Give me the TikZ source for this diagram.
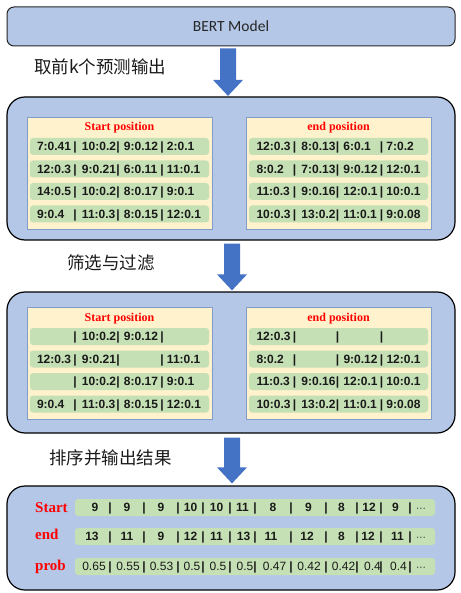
\documentclass[tikz,border=0pt]{standalone}
\usepackage{fontspec}
\setmainfont{Liberation Sans}
\newfontfamily\lsans{Liberation Sans}
\newfontfamily\lserif{Liberation Serif}
\newfontfamily\carl{Carlito}
\newfontfamily\cjk{Noto Sans CJK SC}
\usetikzlibrary{calc}
\definecolor{outerblue}{HTML}{B4C7E7}
\definecolor{yell}{HTML}{FFF2CC}
\definecolor{innerborder}{HTML}{7F9CCB}
\definecolor{rowgreen}{HTML}{C5E0B4}
\definecolor{arrowblue}{HTML}{4472C4}
\definecolor{txt}{HTML}{1A1A1A}
\newcommand\qrow[4]{\rlap{#1}\hspace{38pt}\makebox[0pt]{|}\hspace{7pt}\rlap{#2}\hspace{36pt}\makebox[0pt]{|}\hspace{6pt}\rlap{#3}\hspace{38pt}\makebox[0pt]{|}\hspace{5pt}#4}
\newcommand\fatarrow[5]{\fill[arrowblue] ($(#1)+(#3-8,#4)$) -- ($(#1)+(#3+8,#4)$) -- ($(#2)+(#3+8,-16-#5)$) -- ($(#2)+(#3+15,-16-#5)$) -- ($(#2)+(#3,-#5)$) -- ($(#2)+(#3-15,-16-#5)$) -- ($(#2)+(#3-8,-16-#5)$) -- cycle;}
\begin{document}
\begin{tikzpicture}[x=1pt,y=-1pt,
  outerbox/.style={draw=black, line width=1.2pt, fill=outerblue, rounded corners=18pt, inner sep=0pt, minimum width=448pt},
  bertbox/.style={draw=black!85, line width=1pt, fill=outerblue, rounded corners=7pt, minimum width=448pt, minimum height=39pt, inner sep=0pt, font=\carl\fontsize{15.5}{18}\selectfont, text=black!85},
  ybox/.style={draw=innerborder, line width=0.8pt, fill=yell, minimum width=185pt, minimum height=112pt, inner sep=0pt},
  greenrow/.style={fill=rowgreen, rounded corners=3pt, minimum width=179pt, minimum height=17pt, inner sep=0pt},
  brow/.style={greenrow, minimum width=360pt},
  ttl/.style={font=\lserif\bfseries\fontsize{12}{14}\selectfont, text=red, anchor=base, inner sep=0pt},
  cell/.style={font=\lsans\bfseries\fontsize{12}{14}\selectfont, text=txt, anchor=base west, inner sep=0pt},
  val/.style={font=\lsans\bfseries\fontsize{12}{14}\selectfont, text=txt, anchor=base, inner sep=0pt},
  pval/.style={font=\lsans\fontsize{12}{14}\selectfont, text=txt, anchor=base, inner sep=0pt},
  dotsnode/.style={font=\lsans\fontsize{10}{12}\selectfont, text=txt, anchor=base, inner sep=0pt},
  lab/.style={font=\lserif\bfseries\fontsize{15}{18}\selectfont, text=red, anchor=base west, inner sep=0pt},
  cjklab/.style={font=\cjk\fontsize{17.5}{20}\selectfont, anchor=base west, inner sep=0pt, text=txt}]
\useasboundingbox (0,0) rectangle (460,593);

% boxes
\node[bertbox] (bert) at (231,26.5) {BERT Model};
\node[outerbox, minimum height=143pt] (box2) at (231,168.5) {};
\node[outerbox, minimum height=141pt] (box3) at (231,362.5) {};
\node[outerbox, minimum height=104pt] (box4) at (231,538) {};

% arrows
\fatarrow{bert.south}{box2.north}{-3}{2}{0.5}
\fatarrow{box2.south}{box3.north}{1}{3}{1}
\fatarrow{box3.south}{box4.north}{1}{4}{2}

% step labels
\node[cjklab] (c1) at (34,74) {取前k个预测输出};
\node[cjklab] (c2) at (67,269) {筛选与过滤};
\node[cjklab] (c3) at (49,464) {排序并输出结果};

% inner yellow boxes
\node[ybox] (yL2) at (119.5,173) {};
\node[ybox] (yR2) at (338.5,173) {};
\node[ybox] (yL3) at (119.5,363) {};
\node[ybox] (yR3) at (338.5,363) {};
\node[ttl] (tL2) at (119.5,131) {Start position};
\node[ttl] (tR2) at (338.5,131) {end position};
\node[ttl] (tL3) at (119.5,321) {Start position};
\node[ttl] (tR3) at (338.5,321) {end position};

% green rows
\foreach \bx/\yy in {2/0,3/190}{
  \foreach \k/\cy in {1/146.5,2/169,3/191.5,4/214}{
    \node[greenrow] (L\bx r\k) at (119.5,\cy+\yy) {};
    \node[greenrow] (R\bx r\k) at (338.5,\cy+\yy) {};
  }
}

% box 2 texts
\node[cell] (L2t1) at ($(L2r1.west)+(7,4.3)$) {\qrow{7:0.41}{10:0.2}{9:0.12}{2:0.1}};
\node[cell] (L2t2) at ($(L2r2.west)+(7,4.3)$) {\qrow{12:0.3}{9:0.21}{6:0.11}{11:0.1}};
\node[cell] (L2t3) at ($(L2r3.west)+(7,4.3)$) {\qrow{14:0.5}{10:0.2}{8:0.17}{9:0.1}};
\node[cell] (L2t4) at ($(L2r4.west)+(7,4.3)$) {\qrow{9:0.4}{11:0.3}{8:0.15}{12:0.1}};
\node[cell] (R2t1) at ($(R2r1.west)+(7.5,4.3)$) {\qrow{12:0.3}{8:0.13}{6:0.1}{7:0.2}};
\node[cell] (R2t2) at ($(R2r2.west)+(7.5,4.3)$) {\qrow{8:0.2}{7:0.13}{9:0.12}{12:0.1}};
\node[cell] (R2t3) at ($(R2r3.west)+(7.5,4.3)$) {\qrow{11:0.3}{9:0.16}{12:0.1}{10:0.1}};
\node[cell] (R2t4) at ($(R2r4.west)+(7.5,4.3)$) {\qrow{10:0.3}{13:0.2}{11:0.1}{9:0.08}};

% box 3 texts
\node[cell] (L3t1) at ($(L3r1.west)+(7,4.3)$) {\qrow{}{10:0.2}{9:0.12}{}};
\node[cell] (L3t2) at ($(L3r2.west)+(7,4.3)$) {\qrow{12:0.3}{9:0.21}{}{11:0.1}};
\node[cell] (L3t3) at ($(L3r3.west)+(7,4.3)$) {\qrow{}{10:0.2}{8:0.17}{9:0.1}};
\node[cell] (L3t4) at ($(L3r4.west)+(7,4.3)$) {\qrow{9:0.4}{11:0.3}{8:0.15}{12:0.1}};
\node[cell] (R3t1) at ($(R3r1.west)+(7.5,4.3)$) {\qrow{12:0.3}{}{}{}};
\node[cell] (R3t2) at ($(R3r2.west)+(7.5,4.3)$) {\qrow{8:0.2}{}{9:0.12}{12:0.1}};
\node[cell] (R3t3) at ($(R3r3.west)+(7.5,4.3)$) {\qrow{11:0.3}{9:0.16}{12:0.1}{10:0.1}};
\node[cell] (R3t4) at ($(R3r4.west)+(7.5,4.3)$) {\qrow{10:0.3}{13:0.2}{11:0.1}{9:0.08}};

% result box
\node[brow] (brS) at (255,507.5) {};
\node[brow] (brE) at (255,536.5) {};
\node[brow] (brP) at (255,566.5) {};
\node[lab] (ls) at (35,512) {Start};
\node[lab] (le) at (35,539) {end};
\node[lab] (lp) at (35,570) {prob};

\foreach \x/\t [count=\i] in {95/9,127/9,161/9,190.5/10,216.5/10,242.5/11,273/8,308.5/9,341.5/8,369/12,395.5/9}
  \node[val] (sv\i) at (\x,511.8) {\t};
\foreach \x/\t [count=\i] in {92/13,127/11,161/9,190.5/12,216.5/11,243.5/13,271/11,307/12,341.5/8,368/12,397.5/11}
  \node[val] (ev\i) at (\x,540.8) {\t};
\foreach \x/\t [count=\i] in {94/0.65,128/0.55,161.5/0.53,192/0.5,218/0.5,245/0.5,274.5/0.47,309/0.42,343.5/0.42,372.5/0.4,398.5/0.4}
  \node[pval] (pv\i) at (\x,570.8) {\t};
\foreach \x [count=\i] in {110,144,178,203,230,255,291,326,357,381,410}{
  \node[val] (sb\i) at (\x,511.8) {|};
  \node[val] (eb\i) at (\x,540.8) {|};
  \node[val] (pb\i) at (\x,570.8) {|};
}
\node[dotsnode] (sd) at (421,511.8) {···};
\node[dotsnode] (ed) at (421,540.8) {···};
\node[dotsnode] (pd) at (421,570.8) {···};
\end{tikzpicture}
\end{document}
